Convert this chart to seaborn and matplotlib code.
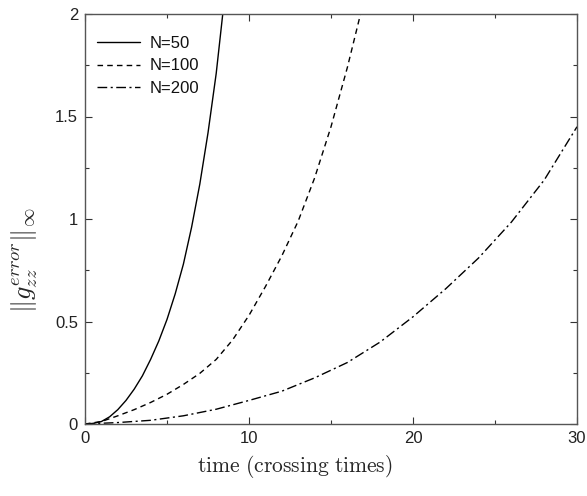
import matplotlib
matplotlib.use("Agg")
import matplotlib.pyplot as plt
import seaborn as sns
import pandas as pd
from matplotlib.ticker import MultipleLocator

# data
t_n50 = [0, 0.5, 1.0, 1.5, 2.0, 2.5, 3.0, 3.5, 4.0, 4.5, 5.0, 5.5, 6.0, 6.5, 7.0, 7.5, 8.0, 8.4]
v_n50 = [0, 0.003, 0.012, 0.035, 0.07, 0.115, 0.17, 0.235, 0.315, 0.405, 0.51, 0.635, 0.78, 0.96, 1.17, 1.42, 1.71, 2.0]

t_n100 = [0, 1, 2, 3, 4, 5, 6, 7, 8, 9, 10, 11, 12, 13, 14, 15, 16, 16.8]
v_n100 = [0, 0.012, 0.04, 0.07, 0.105, 0.145, 0.193, 0.247, 0.315, 0.41, 0.53, 0.67, 0.82, 0.99, 1.2, 1.45, 1.74, 2.0]

t_n200 = [0, 2, 4, 6, 8, 10, 12, 14, 16, 18, 20, 22, 24, 26, 28, 30]
v_n200 = [0, 0.007, 0.018, 0.04, 0.072, 0.115, 0.16, 0.225, 0.3, 0.4, 0.523, 0.66, 0.81, 0.985, 1.19, 1.45]

labels = ["N=50", "N=100", "N=200"]
xticks = [0, 10, 20, 30]
xticklabels = ["0", "10", "20", "30"]
yticks = [0, 0.5, 1, 1.5, 2]
yticklabels = ["0", "0.5", "1", "1.5", "2"]

frames = []
for lab, t, v in zip(labels, [t_n50, t_n100, t_n200], [v_n50, v_n100, v_n200]):
    frames.append(pd.DataFrame({"time": t, "err": v, "series": lab}))
df = pd.concat(frames, ignore_index=True)

sns.set_theme(style="ticks")
plt.rcParams["font.family"] = ["Liberation Sans", "DejaVu Sans"]
plt.rcParams["mathtext.fontset"] = "cm"

fig = plt.figure(figsize=(5.87, 4.96), dpi=100)
ax = fig.add_axes([85 / 587, 72 / 496, 492 / 587, 410 / 496])

sns.lineplot(
    data=df, x="time", y="err", hue="series", style="series",
    palette={l: "black" for l in labels},
    dashes={"N=50": "", "N=100": (4, 3), "N=200": (7, 2.5, 1.5, 2.5)},
    linewidth=1.0, ax=ax, sort=False, estimator=None,
)

ax.set_xlim(0, 30)
ax.set_ylim(0, 2)
ax.set_xticks(xticks, labels=xticklabels)
ax.set_yticks(yticks, labels=yticklabels)
ax.xaxis.set_minor_locator(MultipleLocator(5))
ax.yaxis.set_minor_locator(MultipleLocator(0.25))
ax.tick_params(which="both", direction="in", top=True, right=True, labelsize=12,
               color="#333333", width=0.8, labelcolor="#222222")
ax.tick_params(which="major", length=5, pad=5)
ax.tick_params(which="minor", length=3)
for s in ax.spines.values():
    s.set_color("#555555")
    s.set_linewidth(1.0)

ax.set_xlabel(r"$\mathrm{time\ (crossing\ times)}$", fontsize=15.5)
ax.xaxis.set_label_coords(0.427, -0.07)
ax.set_ylabel(r"$\Vert g_{zz}^{error}\Vert_{\infty}$", fontsize=19)
ax.yaxis.set_label_coords(-0.092, 0.40)

leg = ax.legend(loc="upper left", frameon=False, fontsize=12, handlelength=2.6,
                handletextpad=0.55, labelspacing=0.45, borderaxespad=0.3,
                bbox_to_anchor=(0.0, 0.975))
for txt in leg.get_texts():
    txt.set_color("#111111")

fig.savefig("out.png", dpi=100)
